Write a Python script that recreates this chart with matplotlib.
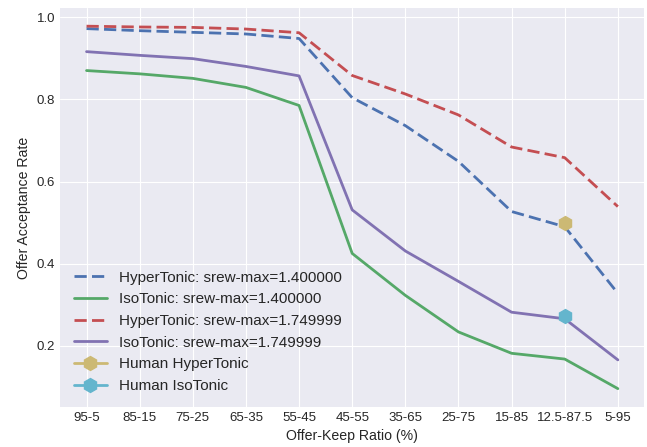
import matplotlib
matplotlib.use("Agg")
import matplotlib.pyplot as plt

categories = ["95-5", "85-15", "75-25", "65-35", "55-45", "45-55", "35-65",
              "25-75", "15-85", "12.5-87.5", "5-95"]
hyper_140 = [0.972, 0.967, 0.963, 0.959, 0.948, 0.804, 0.736, 0.649, 0.527, 0.490, 0.328]
iso_140 = [0.870, 0.862, 0.851, 0.829, 0.785, 0.425, 0.323, 0.234, 0.182, 0.168, 0.096]
hyper_175 = [0.978, 0.976, 0.975, 0.971, 0.962, 0.858, 0.813, 0.762, 0.684, 0.658, 0.539]
iso_175 = [0.916, 0.907, 0.899, 0.880, 0.857, 0.531, 0.431, 0.357, 0.282, 0.266, 0.166]
human_cat = ["12.5-87.5"]
human_hyper = [0.500]
human_iso = [0.272]

plt.style.use("seaborn-v0_8-darkgrid")
plt.rcParams["font.family"] = ["Liberation Sans", "DejaVu Sans"]

fig, ax = plt.subplots(figsize=(6.47, 4.47), dpi=100)
fig.subplots_adjust(left=0.0927, right=0.996, top=0.982, bottom=0.09)

x = list(range(len(categories)))
hx = [categories.index(c) for c in human_cat]
lw = 2.0
dash = (4.4, 1.9)
ax.plot(x, hyper_140, "--", dashes=dash, color="#4C72B0", lw=lw,
        label="HyperTonic: srew-max=1.400000")
ax.plot(x, iso_140, "-", color="#55A868", lw=lw, label="IsoTonic: srew-max=1.400000")
ax.plot(x, hyper_175, "--", dashes=dash, color="#C44E52", lw=lw,
        label="HyperTonic: srew-max=1.749999")
ax.plot(x, iso_175, "-", color="#8172B2", lw=lw, label="IsoTonic: srew-max=1.749999")
ax.plot(hx, human_hyper, "-", marker="h", markersize=10, color="#CCB974", lw=lw,
        label="Human HyperTonic")
ax.plot(hx, human_iso, "-", marker="h", markersize=10, color="#64B5CD", lw=lw,
        label="Human IsoTonic")

ax.set_xticks(x)
ax.set_xticklabels(categories)
ax.tick_params(axis="both", labelsize=9.5, colors="#262626")
ax.set_xlabel("Offer-Keep Ratio (%)", fontsize=10.2, color="#262626")
ax.set_ylabel("Offer Acceptance Rate", fontsize=10.2, color="#262626")
ax.legend(loc="lower left", fontsize=11, frameon=False, handlelength=2.15,
          labelspacing=0.5)

fig.savefig("out.png", dpi=100)
